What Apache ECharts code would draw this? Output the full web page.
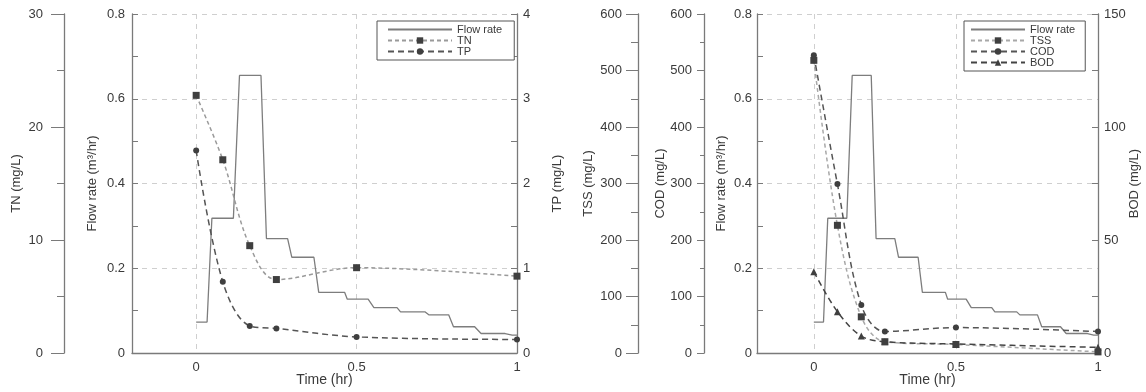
<!DOCTYPE html>
<html><head><meta charset="utf-8">
<script src="https://cdn.jsdelivr.net/npm/echarts@6/dist/echarts.min.js"></script>
<style>html,body{margin:0;padding:0;background:#fff}#c{width:1146px;height:392px}</style>
</head><body><div id="c"></div>
<script>
// ---- data ----
const flowTime = [0, 0.034, 0.049, 0.116, 0.135, 0.202, 0.219, 0.285, 0.298, 0.367, 0.382, 0.463, 0.471, 0.536, 0.554, 0.626, 0.637, 0.714, 0.725, 0.787, 0.802, 0.868, 0.888, 0.963, 0.985, 1];
const flowRate = [0.073, 0.073, 0.318, 0.318, 0.655, 0.655, 0.27, 0.27, 0.226, 0.226, 0.143, 0.143, 0.127, 0.127, 0.107, 0.107, 0.097, 0.097, 0.09, 0.09, 0.062, 0.062, 0.046, 0.046, 0.042, 0.042];
const sampleTime = [0, 0.083, 0.167, 0.25, 0.5, 1];
const tnValues  = [22.8, 17.1, 9.5, 6.5, 7.55, 6.8];
const tpValues  = [2.39, 0.84, 0.32, 0.29, 0.19, 0.16];
const tssValues = [518, 226, 64, 20, 15, 2];
const codValues = [527, 299, 85, 38, 45, 38];
const bodValues = [36, 18.3, 7.5, 5, 4, 2.5];
const timeTicks = [0, 0.5, 1];
const leftLegend = ['Flow rate', 'TN', 'TP'];
const rightLegend = ['Flow rate', 'TSS', 'COD', 'BOD'];

const FONT = '"Liberation Sans", Arial, sans-serif';
const TXT = '#3a3a3a';
const AX = '#7a7a7a';
const pairs = (xs, ys) => xs.map((x, i) => [x, ys[i]]);

function xAxisCfg(grid) {
  return {
    gridIndex: grid, type: 'value', min: -0.2, max: 1,
    name: 'Time (hr)', nameLocation: 'middle', nameGap: 20, nameMoveOverlap: false,
    nameTextStyle: { fontSize: 14, color: TXT, fontFamily: FONT },
    axisLine: { show: true, lineStyle: { color: AX, width: 1.3 } },
    axisTick: { show: false, customValues: timeTicks },
    axisLabel: { customValues: timeTicks, margin: 8, fontSize: 13, color: TXT, fontFamily: FONT },
    splitLine: { show: true, lineStyle: { type: [5, 5], color: '#cfcfcf', width: 1 } }
  };
}
function yAxisCfg(o) {
  return Object.assign({
    type: 'value', nameLocation: 'middle', nameMoveOverlap: false,
    nameTextStyle: { fontSize: 13, color: TXT, fontFamily: FONT },
    axisLine: { show: true, onZero: false, lineStyle: { color: AX, width: 1.3 } },
    axisLabel: { fontSize: 13, color: TXT, fontFamily: FONT, margin: 6 },
    splitLine: { show: false }
  }, o);
}
const innerTicks = { axisTick: { show: true, inside: true, length: 6, lineStyle: { color: AX } },
                     minorTick: { show: true, splitNumber: 2, length: 6, lineStyle: { color: AX } } };
function outerTicks(major, minor) {
  return { axisTick: { show: true, inside: false, length: major, lineStyle: { color: AX } },
           minorTick: { show: true, splitNumber: 2, length: minor, lineStyle: { color: AX } } };
}
const gridSplit = { show: true, lineStyle: { type: [5, 5], color: '#cfcfcf', width: 1 } };

const yAxes = [
  // left panel
  yAxisCfg(Object.assign({ gridIndex: 0, position: 'left', min: 0, max: 0.8, interval: 0.2,
    name: 'Flow rate (m³/hr)', nameGap: 33, splitLine: gridSplit,
    axisLabel: { fontSize: 13, color: TXT, fontFamily: FONT, margin: 7 } }, innerTicks)),
  yAxisCfg(Object.assign({ gridIndex: 0, position: 'left', offset: 68, min: 0, max: 30, interval: 10,
    name: 'TN (mg/L)', nameGap: 41,
    axisLabel: { fontSize: 13, color: TXT, fontFamily: FONT, margin: 21 } }, outerTicks(13, 7))),
  yAxisCfg(Object.assign({ gridIndex: 0, position: 'right', min: 0, max: 4, interval: 1,
    name: 'TP (mg/L)', nameGap: 34 }, innerTicks)),
  // right panel
  yAxisCfg(Object.assign({ gridIndex: 1, position: 'left', min: 0, max: 0.8, interval: 0.2,
    name: 'Flow rate (m³/hr)', nameGap: 29, splitLine: gridSplit,
    axisLabel: { fontSize: 13, color: TXT, fontFamily: FONT, margin: 5 } }, innerTicks)),
  yAxisCfg(Object.assign({ gridIndex: 1, position: 'left', offset: 53, min: 0, max: 600, interval: 100,
    name: 'COD (mg/L)', nameGap: 37,
    axisLabel: { fontSize: 13, color: TXT, fontFamily: FONT, margin: 12 } }, outerTicks(7, 4))),
  yAxisCfg(Object.assign({ gridIndex: 1, position: 'left', offset: 119, min: 0, max: 600, interval: 100,
    name: 'TSS (mg/L)', nameGap: 43,
    axisLabel: { fontSize: 13, color: TXT, fontFamily: FONT, margin: 16 } }, outerTicks(12, 7))),
  yAxisCfg(Object.assign({ gridIndex: 1, position: 'right', min: 0, max: 150, interval: 50,
    name: 'BOD (mg/L)', nameGap: 30 }, innerTicks))
];

function flowSeries(xi, yi) {
  return { name: 'Flow rate', type: 'line', xAxisIndex: xi, yAxisIndex: yi, symbol: 'none',
    data: pairs(flowTime, flowRate), lineStyle: { color: '#7d7d7d', width: 1.3 }, itemStyle: { color: '#7d7d7d' }, z: 3 };
}
function concSeries(name, xi, yi, vals, symbol, size, lineColor, dash) {
  return { name: name, type: 'line', xAxisIndex: xi, yAxisIndex: yi, data: pairs(sampleTime, vals),
    smooth: 0.35, symbol: symbol, symbolSize: size, showSymbol: true,
    itemStyle: { color: '#3f3f3f' }, lineStyle: { color: lineColor, width: 1.5, type: dash }, z: 4 };
}
function legendItems(names) {
  return names.map(n => n === 'Flow rate' ? { name: n, itemStyle: { opacity: 0 } } : { name: n });
}

const legendBase = {
  orient: 'vertical', selectedMode: false, itemGap: 0, itemHeight: 8,
  borderColor: '#555', borderWidth: 1, backgroundColor: '#fff',
  textStyle: { fontSize: 11, color: TXT, fontFamily: FONT, lineHeight: 11 }
};

const option = {
  animation: false,
  textStyle: { fontFamily: FONT },
  grid: [
    { left: 132, right: 629, top: 14, bottom: 39, outerBoundsMode: 'none', containLabel: false },
    { left: 757, right: 48, top: 14, bottom: 39, outerBoundsMode: 'none', containLabel: false }
  ],
  xAxis: [xAxisCfg(0), xAxisCfg(1)],
  yAxis: yAxes,
  legend: [
    Object.assign({}, legendBase, { data: legendItems(leftLegend), left: 377, top: 21, itemWidth: 64, padding: [3, 12, 3, 10] }),
    Object.assign({}, legendBase, { data: legendItems(rightLegend), left: 964, top: 21, itemWidth: 54, padding: [3, 10, 3, 6] })
  ],
  series: [
    flowSeries(0, 0),
    concSeries('TN', 0, 1, tnValues, 'rect', 7, '#9a9a9a', [4, 3]),
    concSeries('TP', 0, 2, tpValues, 'circle', 6, '#555', [6, 4]),
    flowSeries(1, 3),
    concSeries('TSS', 1, 5, tssValues, 'rect', 7, '#a8a8a8', [4, 3]),
    concSeries('COD', 1, 4, codValues, 'circle', 6, '#555', [6, 4]),
    concSeries('BOD', 1, 6, bodValues, 'triangle', 7, '#444', [6, 4])
  ]
};
echarts.init(document.getElementById('c'), null, { renderer: 'canvas' }).setOption(option);
</script>
</body></html>
